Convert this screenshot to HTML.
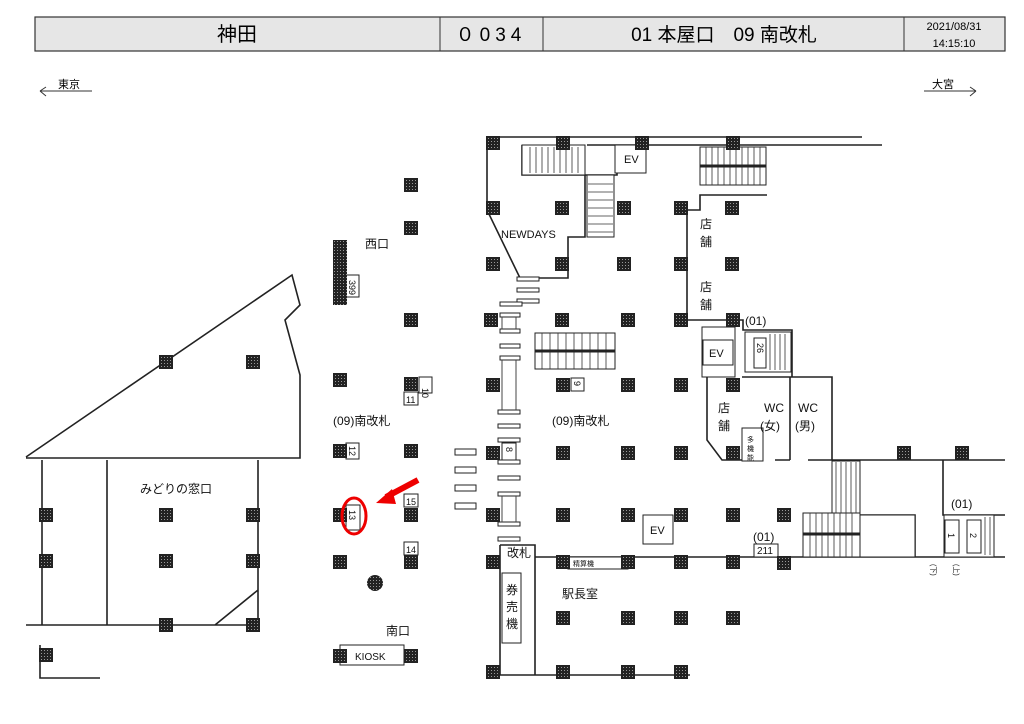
<!DOCTYPE html>
<html><head><meta charset="utf-8">
<style>
html,body{margin:0;padding:0;background:#fff;}
svg{display:block;font-family:"Liberation Sans","Noto Sans CJK JP",sans-serif;}
</style></head><body>
<svg width="1024" height="724" viewBox="0 0 1024 724" xmlns="http://www.w3.org/2000/svg">
<defs>
<pattern id="dots" width="3" height="3" patternUnits="userSpaceOnUse">
<rect width="3" height="3" fill="#222"/><rect x="1" y="1" width="1" height="1" fill="#999"/>
</pattern>
<g id="p"><rect x="-7" y="-7" width="14" height="14" fill="url(#dots)"/></g>
</defs>
<!-- header -->
<rect x="35" y="17" width="970" height="34" fill="#e6e6e6" stroke="#333" stroke-width="1.2"/>
<line x1="440" y1="17" x2="440" y2="51" stroke="#333"/>
<line x1="543" y1="17" x2="543" y2="51" stroke="#333"/>
<line x1="904" y1="17" x2="904" y2="51" stroke="#333"/>
<text x="237" y="41" font-size="20" text-anchor="middle">神田</text>
<text x="491" y="41" font-size="19" text-anchor="middle" letter-spacing="5">０034</text>
<text x="724" y="41" font-size="19" text-anchor="middle">01 本屋口　09 南改札</text>
<text x="954" y="30" font-size="11" text-anchor="middle">2021/08/31</text>
<text x="954" y="47" font-size="11" text-anchor="middle">14:15:10</text>
<!-- direction -->
<text x="58" y="88" font-size="11">東京</text>
<path d="M40 91 H92 M40 91 L46 87 M40 91 L46 96" stroke="#333" fill="none"/>
<text x="932" y="88" font-size="11">大宮</text>
<path d="M924 91 H976 M976 91 L970 87 M976 91 L970 96" stroke="#333" fill="none"/>

<g stroke="#222" stroke-width="1.6" fill="none">
<!-- left area -->
<path d="M26 457 L292 275 L300 305 L285 320 L300 375 L300 458 L26 458"/>
<path d="M26 625 H258 V590 L215 625 M42 460 V625 M107 460 V625 M258 460 V590"/>
<path d="M40 645 V678 H100"/>
<!-- right top area -->
<path d="M487 137 H862 M587 145 H882"/>
<path d="M487 137 V210 L520 278 H568 V237 H585 V175 H617 V145"/>
<path d="M522 145 V175 H585"/>
<path d="M687 210 H700 V195 H767 M687 210 V320 H743 V330 H792 V377"/>
<path d="M707 377 V440 L722 460 H742"/>
<path d="M742 377 H832 V460 M790 377 V460 M775 460 H790 M808 460 H1005 M943 460 V515 H1005"/>
<path d="M860 515 H915 V557 M535 557 H1005"/>
<path d="M500 545 H535 V675 M500 545 V675 H535 M535 675 H690"/>
</g>
<g stroke="#222" stroke-width="1" fill="#fff">
<!-- stairs top -->
<rect x="522" y="145" width="63" height="30"/>
<rect x="587" y="175" width="27" height="62"/>
<rect x="615" y="145" width="31" height="28"/>
<rect x="700" y="147" width="66" height="38"/>
<rect x="535" y="333" width="80" height="36"/>
<rect x="702" y="327" width="33" height="50"/>
<rect x="703" y="340" width="30" height="25"/>
<rect x="745" y="332" width="46" height="40"/>
<rect x="754" y="338" width="12" height="30"/>
<rect x="742" y="428" width="21" height="33"/>
<rect x="832" y="461" width="28" height="52"/>
<rect x="803" y="513" width="57" height="44"/>
<rect x="860" y="515" width="55" height="42"/>
<rect x="944" y="515" width="50" height="42"/>
<rect x="945" y="520" width="14" height="33"/>
<rect x="967" y="520" width="14" height="33"/>
<rect x="643" y="515" width="30" height="29"/>
<rect x="754" y="544" width="24" height="13"/>
<rect x="502" y="573" width="19" height="70"/>
<rect x="340" y="645" width="64" height="20"/>
<rect x="346" y="505" width="14" height="25"/>
<rect x="346" y="443" width="13" height="16"/>
<rect x="346" y="275" width="13" height="22"/>
<rect x="419" y="377" width="13" height="16"/>
<rect x="404" y="392" width="14" height="13"/>
<rect x="404" y="494" width="14" height="13"/>
<rect x="404" y="542" width="14" height="13"/>
<rect x="571" y="378" width="13" height="13"/>
<rect x="502" y="443" width="14" height="17"/>
<rect x="568" y="557" width="60" height="12"/>
<!-- barriers -->
<rect x="455" y="449" width="21" height="6"/><rect x="455" y="467" width="21" height="6"/>
<rect x="455" y="485" width="21" height="6"/><rect x="455" y="503" width="21" height="6"/>
<rect x="517" y="277" width="22" height="4"/><rect x="517" y="288" width="22" height="4"/>
<rect x="517" y="299" width="22" height="4"/><rect x="500" y="302" width="22" height="4"/>
<rect x="500" y="313" width="20" height="4"/><rect x="500" y="329" width="20" height="4"/>
<rect x="500" y="344" width="20" height="4"/><rect x="500" y="356" width="20" height="4"/>
<rect x="498" y="410" width="22" height="4"/><rect x="498" y="424" width="22" height="4"/>
<rect x="498" y="438" width="22" height="4"/><rect x="498" y="460" width="22" height="4"/>
<rect x="498" y="476" width="22" height="4"/><rect x="498" y="492" width="22" height="4"/>
<rect x="498" y="522" width="22" height="4"/><rect x="498" y="537" width="22" height="4"/>
</g>
<path d="M502 360 V410 M516 360 V410 M502 496 V522 M516 496 V522 M502 317 V329 M516 317 V329" stroke="#444"/>
<!-- stair treads -->
<g stroke="#333" stroke-width="0.8">
<path d="M530 147 V173 M536 147 V173 M542 147 V173 M548 147 V173 M554 147 V173 M560 147 V173 M566 147 V173 M572 147 V173 M578 147 V173"/>
<path d="M588 184 H613 M588 192 H613 M588 200 H613 M588 208 H613 M588 216 H613 M588 224 H613 M588 232 H613"/>
<path d="M706 147 V185 M712 147 V185 M718 147 V185 M724 147 V185 M730 147 V185 M736 147 V185 M742 147 V185 M748 147 V185 M754 147 V185 M760 147 V185"/>
<path d="M542 333 V369 M550 333 V369 M558 333 V369 M566 333 V369 M574 333 V369 M582 333 V369 M590 333 V369 M598 333 V369 M606 333 V369"/>
<path d="M770 334 V370 M775 334 V370 M780 334 V370 M785 334 V370"/>
<path d="M836 462 V513 M841 462 V513 M846 462 V513 M851 462 V513 M856 462 V513"/>
<path d="M810 513 V557 M816 513 V557 M822 513 V557 M828 513 V557 M834 513 V557 M840 513 V557 M846 513 V557 M852 513 V557"/>
<path d="M985 517 V555 M990 517 V555"/>
</g>
<path d="M700 166 H766 M535 351 H615 M803 534 H860" stroke="#222" stroke-width="3"/>
<!-- pillars -->
<g>
<use href="#p" x="411" y="185"/><use href="#p" x="411" y="228"/>
<rect x="333" y="240" width="14" height="65" fill="url(#dots)"/>
<use href="#p" x="411" y="320"/><use href="#p" x="340" y="380"/><use href="#p" x="411" y="384"/>
<use href="#p" x="340" y="451"/><use href="#p" x="411" y="451"/>
<use href="#p" x="340" y="515"/><use href="#p" x="411" y="515"/>
<use href="#p" x="340" y="562"/><use href="#p" x="411" y="562"/>
<use href="#p" x="340" y="656"/><use href="#p" x="411" y="656"/>
<use href="#p" x="166" y="362"/><use href="#p" x="253" y="362"/>
<use href="#p" x="46" y="515"/><use href="#p" x="166" y="515"/><use href="#p" x="253" y="515"/>
<use href="#p" x="46" y="561"/><use href="#p" x="166" y="561"/><use href="#p" x="253" y="561"/>
<use href="#p" x="166" y="625"/><use href="#p" x="253" y="625"/>
<use href="#p" x="46" y="655"/>
<use href="#p" x="493" y="143"/><use href="#p" x="563" y="143"/><use href="#p" x="642" y="143"/><use href="#p" x="733" y="143"/>
<use href="#p" x="493" y="208"/><use href="#p" x="562" y="208"/><use href="#p" x="624" y="208"/><use href="#p" x="681" y="208"/><use href="#p" x="732" y="208"/>
<use href="#p" x="493" y="264"/><use href="#p" x="562" y="264"/><use href="#p" x="624" y="264"/><use href="#p" x="681" y="264"/><use href="#p" x="732" y="264"/>
<use href="#p" x="491" y="320"/><use href="#p" x="562" y="320"/><use href="#p" x="628" y="320"/><use href="#p" x="681" y="320"/><use href="#p" x="733" y="320"/>
<use href="#p" x="493" y="385"/><use href="#p" x="563" y="385"/><use href="#p" x="628" y="385"/><use href="#p" x="681" y="385"/><use href="#p" x="733" y="385"/>
<use href="#p" x="493" y="453"/><use href="#p" x="563" y="453"/><use href="#p" x="628" y="453"/><use href="#p" x="681" y="453"/><use href="#p" x="733" y="453"/>
<use href="#p" x="904" y="453"/><use href="#p" x="962" y="453"/>
<use href="#p" x="493" y="515"/><use href="#p" x="563" y="515"/><use href="#p" x="628" y="515"/><use href="#p" x="681" y="515"/><use href="#p" x="733" y="515"/><use href="#p" x="784" y="515"/>
<use href="#p" x="493" y="562"/><use href="#p" x="563" y="562"/><use href="#p" x="628" y="562"/><use href="#p" x="681" y="562"/><use href="#p" x="733" y="562"/><use href="#p" x="784" y="563"/>
<use href="#p" x="563" y="618"/><use href="#p" x="628" y="618"/><use href="#p" x="681" y="618"/><use href="#p" x="733" y="618"/>
<use href="#p" x="493" y="672"/><use href="#p" x="563" y="672"/><use href="#p" x="628" y="672"/><use href="#p" x="681" y="672"/>
</g>
<ellipse cx="375" cy="583" rx="8" ry="8" fill="url(#dots)"/>
<!-- labels -->
<g font-size="12" fill="#111">
<text x="365" y="248">西口</text>
<text x="333" y="425">(09)南改札</text>
<text x="552" y="425">(09)南改札</text>
<text x="140" y="493">みどりの窓口</text>
<text x="386" y="635">南口</text>
<text x="355" y="660" font-size="10">KIOSK</text>
<text x="501" y="238" font-size="11">NEWDAYS</text>
<text x="624" y="163" font-size="11">EV</text>
<text x="709" y="357" font-size="11">EV</text>
<text x="650" y="534" font-size="11">EV</text>
<text x="700" y="228">店</text><text x="700" y="246">舗</text>
<text x="700" y="291">店</text><text x="700" y="309">舗</text>
<text x="718" y="412">店</text><text x="718" y="430">舗</text>
<text x="764" y="412">WC</text><text x="760" y="430">(女)</text>
<text x="798" y="412">WC</text><text x="795" y="430">(男)</text>
<text x="745" y="325">(01)</text>
<text x="951" y="508">(01)</text>
<text x="753" y="541">(01)</text>
<text x="757" y="554" font-size="10">211</text>
<text x="507" y="557">改札</text>
<text x="506" y="594">券</text><text x="506" y="611">売</text><text x="506" y="628">機</text>
<text x="562" y="598">駅長室</text>
<text x="573" y="566" font-size="7">精算機</text>
<text x="747" y="442" font-size="7">多</text><text x="747" y="451" font-size="7">機</text><text x="747" y="460" font-size="7">能</text>
</g>
<g font-size="9" fill="#111">
<text x="422" y="388" transform="rotate(90 422 388)">10</text>
<text x="406" y="403">11</text>
<text x="349" y="280" transform="rotate(90 349 280)">399</text>
<text x="349" y="446" transform="rotate(90 349 446)">12</text>
<text x="349" y="510" transform="rotate(90 349 510)">13</text>
<text x="406" y="505">15</text>
<text x="406" y="553">14</text>
<text x="574" y="381" transform="rotate(90 574 381)">9</text>
<text x="506" y="447" transform="rotate(90 506 447)">8</text>
<text x="757" y="343" transform="rotate(90 757 343)">26</text>
<text x="948" y="533" transform="rotate(90 948 533)">1</text>
<text x="970" y="533" transform="rotate(90 970 533)">2</text>
<text x="931" y="564" font-size="7" transform="rotate(90 931 564)">(下)</text>
<text x="954" y="564" font-size="7" transform="rotate(90 954 564)">(上)</text>
</g>
<!-- highlight -->
<ellipse cx="354" cy="516" rx="12" ry="18" fill="none" stroke="#e00" stroke-width="3"/>
<path d="M418 480 L386 497" stroke="#e00" stroke-width="6"/>
<path d="M376 503 L392 489 L396 504 Z" fill="#e00"/>
</svg>
</body></html>
